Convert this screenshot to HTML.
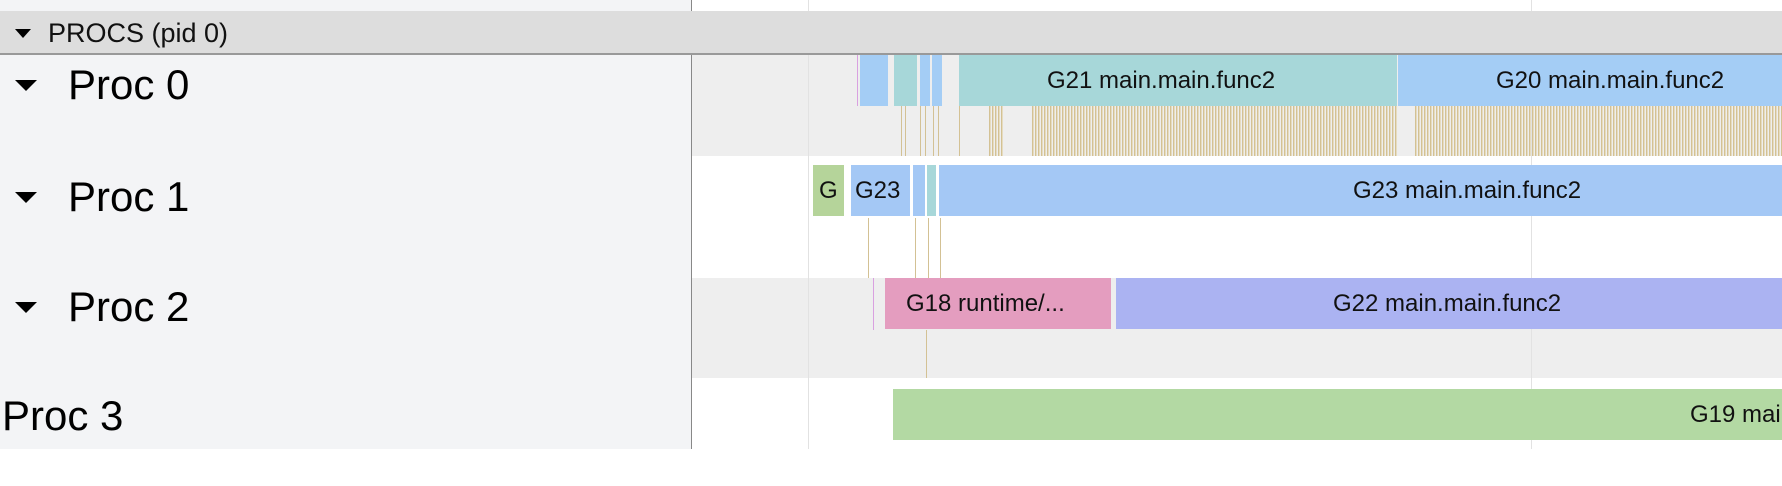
<!DOCTYPE html>
<html><head><meta charset="utf-8"><style>
body{margin:0;width:1782px;height:486px;background:#fff;position:relative;overflow:hidden;font-family:"Liberation Sans",sans-serif;}
div{position:absolute;box-sizing:border-box;}
.b{height:51px;color:#111;font-size:24px;line-height:51px;white-space:nowrap;overflow:hidden;}
.t{background:repeating-linear-gradient(90deg,#d3c194 0 1px,#e6dcc0 1px 2px,transparent 2px 3px);}
.l{width:1px;background:#d3c194;}
.lab{font-size:42px;color:#000;line-height:50px;}
.tri{width:0;height:0;border-left:11px solid transparent;border-right:11px solid transparent;border-top:11px solid #000;}
</style></head><body>
<div style="left:0;top:0;width:691px;height:11px;background:#f3f4f6"></div>
<div style="left:0;top:55px;width:691px;height:394px;background:#f3f4f6"></div>
<div style="left:691px;top:0;width:1px;height:11px;background:#888"></div>
<div style="left:691px;top:55px;width:1px;height:394px;background:#888"></div>
<div style="left:692px;top:55px;width:1090px;height:101px;background:#eee"></div>
<div style="left:692px;top:278px;width:1090px;height:100px;background:#eee"></div>
<div style="left:808px;top:0;width:1px;height:449px;background:#e2e2e2"></div>
<div style="left:1531px;top:0;width:1px;height:449px;background:#e2e2e2"></div>
<div style="left:0;top:11px;width:1782px;height:44px;background:#dddddd;border-bottom:2px solid #999"></div>
<div class="tri" style="left:15px;top:29px;border-left-width:8px;border-right-width:8px;border-top-width:9px"></div>
<div style="left:48px;top:11px;height:44px;line-height:44px;font-size:27px;color:#111">PROCS (pid 0)</div>
<div class="tri" style="left:15px;top:80px"></div><div class="lab" style="left:68px;top:60px">Proc 0</div>
<div class="tri" style="left:15px;top:192px"></div><div class="lab" style="left:68px;top:172px">Proc 1</div>
<div class="tri" style="left:15px;top:302px"></div><div class="lab" style="left:68px;top:282px">Proc 2</div>
<div class="lab" style="left:2px;top:391px">Proc 3</div>
<!-- Proc0 -->
<div style="left:857px;top:55px;width:1px;height:51px;background:#d9a0e0"></div>
<div class="b" style="left:860px;top:55px;width:28px;background:#a4cdf5"></div>
<div class="b" style="left:894px;top:55px;width:23px;background:#a7d7d9"></div>
<div class="b" style="left:920px;top:55px;width:10px;background:#a4cdf5"></div>
<div class="b" style="left:932px;top:55px;width:10px;background:#a4cdf5"></div>
<div class="b" style="left:959px;top:55px;width:438px;background:#a7d7d9"><span style="position:absolute;left:88px">G21 main.main.func2</span></div>
<div class="b" style="left:1398px;top:55px;width:384px;background:#a4cdf5"><span style="position:absolute;left:98px">G20 main.main.func2</span></div>
<div class="t" style="left:1032px;top:106px;width:366px;height:50px"></div>
<div class="t" style="left:1415px;top:106px;width:367px;height:50px"></div>
<div class="l" style="left:901px;top:106px;height:50px"></div><div class="l" style="left:905px;top:106px;height:50px"></div>
<div class="l" style="left:920px;top:106px;height:50px"></div><div class="l" style="left:925px;top:106px;height:50px"></div>
<div class="l" style="left:933px;top:106px;height:50px"></div><div class="l" style="left:938px;top:106px;height:50px"></div>
<div class="l" style="left:959px;top:106px;height:50px"></div>
<div class="t" style="left:989px;top:106px;width:15px;height:50px"></div>
<!-- Proc1 -->
<div class="b" style="left:813px;top:165px;width:31px;background:#b5d49a"><span style="position:absolute;left:6px">G</span></div>
<div class="b" style="left:851px;top:165px;width:59px;background:#a4c8f5"><span style="position:absolute;left:4px">G23</span></div>
<div class="b" style="left:913px;top:165px;width:12px;background:#a4c8f5"></div>
<div class="b" style="left:927px;top:165px;width:9px;background:#a7d7d9"></div>
<div class="b" style="left:939px;top:165px;width:843px;background:#a4c8f5"><span style="position:absolute;left:414px">G23 main.main.func2</span></div>
<div class="l" style="left:868px;top:218px;height:60px"></div>
<div class="l" style="left:915px;top:218px;height:60px"></div>
<div class="l" style="left:928px;top:218px;height:60px"></div>
<div class="l" style="left:940px;top:218px;height:60px"></div>
<!-- Proc2 -->
<div style="left:873px;top:278px;width:1px;height:52px;background:#d9a0e0"></div>
<div class="b" style="left:885px;top:278px;width:226px;background:#e49dbf"><span style="position:absolute;left:21px">G18 runtime/...</span></div>
<div class="b" style="left:1116px;top:278px;width:666px;background:#abb3f2"><span style="position:absolute;left:217px">G22 main.main.func2</span></div>
<div class="l" style="left:926px;top:330px;height:48px"></div>
<!-- Proc3 -->
<div class="b" style="left:893px;top:389px;width:889px;background:#b3d9a3"><span style="position:absolute;left:797px">G19 main.main.func2</span></div>
</body></html>
